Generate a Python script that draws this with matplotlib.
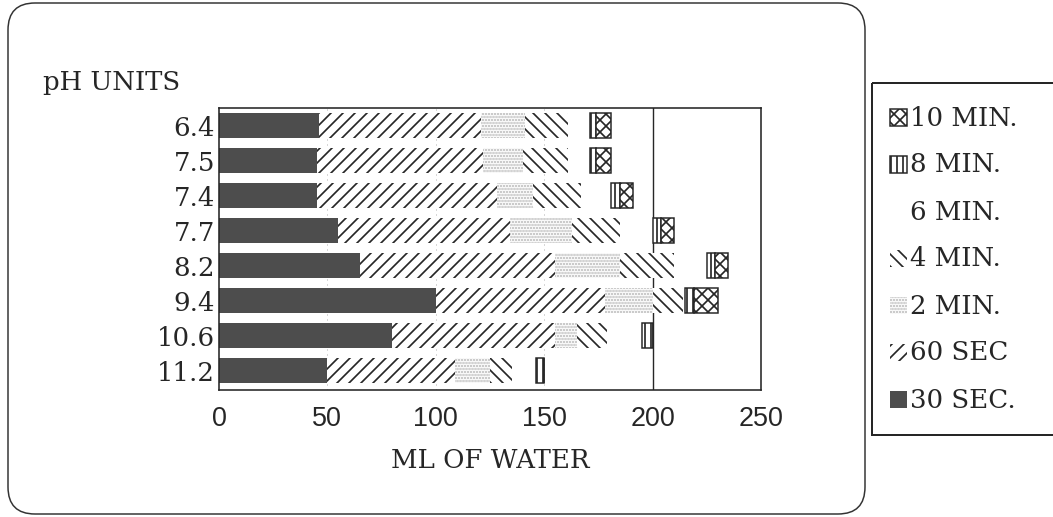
import numpy as np
import matplotlib
matplotlib.use('Agg')
import matplotlib.pyplot as plt
from matplotlib.patches import Rectangle, FancyBboxPatch

plt.rcParams['font.family'] = ['DejaVu Serif']
plt.rcParams['hatch.linewidth'] = 1.7

# data (cumulative ml of water collected at each time)
ph_labels = ['6.4', '7.5', '7.4', '7.7', '8.2', '9.4', '10.6', '11.2']
time_labels = ['30 SEC.', '60 SEC', '2 MIN.', '4 MIN.', '6 MIN.', '8 MIN.', '10 MIN.']
sec30 = [46, 45, 45, 55, 65, 100, 80, 50]
sec60 = [121, 122, 128, 134, 155, 178, 155, 109]
min2 = [141, 140, 145, 163, 185, 200, 165, 125]
min4 = [161, 161, 167, 185, 210, 214, 179, 135]
min6 = [171, 171, 181, 200, 225, 215, 195, 146]
min8 = [174, 174, 185, 204, 229, 219, 200, 150]
min10 = [181, 181, 191, 210, 235, 230, 200, 150]
x_ticks = [0, 50, 100, 150, 200, 250]

ink = '#262626'
styles = [
    dict(facecolor='#4d4d4d', edgecolor='#4d4d4d', hatch=None, linewidth=0),
    dict(facecolor='white', edgecolor=ink, hatch='//', linewidth=0),
    dict(facecolor='white', edgecolor='#b8b8b8', hatch='....', linewidth=0),
    dict(facecolor='white', edgecolor=ink, hatch='\\\\', linewidth=0),
    dict(facecolor='white', edgecolor='white', hatch=None, linewidth=0),
    dict(facecolor='white', edgecolor=ink, hatch='||', linewidth=1.5),
    dict(facecolor='white', edgecolor=ink, hatch='xx', linewidth=1.5),
]

W, H = 1053, 517
fig = plt.figure(figsize=(W / 72, H / 72), dpi=72)
fig.patch.set_facecolor('white')

# overlay in pixel coordinates for frame, legend and heading
ov = fig.add_axes([0, 0, 1, 1], zorder=0)
ov.set_xlim(0, W)
ov.set_ylim(H, 0)
ov.axis('off')

ax = fig.add_axes([219 / W, (H - 390) / H, 542 / W, 282 / H], zorder=1)

cum = np.array([sec30, sec60, min2, min4, min6, min8, min10], dtype=float)
ypos = np.arange(len(ph_labels))
prev = np.zeros(len(ph_labels))
for i, st in enumerate(styles):
    ax.barh(ypos, cum[i] - prev, left=prev, height=0.71, zorder=2,
            label=time_labels[i], **st)
    prev = cum[i]

for x in x_ticks[1:4]:
    ax.axvline(x, color='#b0b0b0', lw=1, ls=(0, (1, 4)), zorder=0.5)
ax.axvline(x_ticks[4], color=ink, lw=1.4, zorder=0.5)

ax.set_xlim(0, 250)
ax.set_ylim(7.557, -0.5)
ax.set_xticks(x_ticks)
ax.set_yticks(ypos)
ax.set_yticklabels(ph_labels)
ax.tick_params(axis='y', length=0, pad=4, labelsize=26, colors=ink)
ax.tick_params(axis='x', length=0, pad=16, labelsize=27, colors=ink)
for lab in ax.get_xticklabels():
    lab.set_fontfamily('Liberation Sans')
for sp in ax.spines.values():
    sp.set_linewidth(1.6)
    sp.set_color(ink)

ax.set_xlabel('ML OF WATER', fontsize=26, color=ink, va='center')
ax.xaxis.set_label_coords(0.5, (390 - 460) / 282)

# heading of y axis
ov.text(43, 90, 'pH UNITS', fontsize=26, color=ink, ha='left', va='baseline')

# rounded frame around the chart
ov.add_patch(FancyBboxPatch((8, 3), 857, 511, boxstyle='round,pad=0,rounding_size=27',
                            fill=False, edgecolor='#333333', lw=1.5, clip_on=False))

# legend box
ov.add_patch(Rectangle((872, 83), 200, 352, fill=False, edgecolor=ink, lw=2, clip_on=False))
for k, i in enumerate(range(len(time_labels) - 1, -1, -1)):
    yc = 118 + 47 * k
    ov.add_patch(Rectangle((890, yc - 9), 17, 17, **styles[i]))
    ov.text(910, yc, time_labels[i], fontsize=26, color=ink, ha='left', va='center')

fig.savefig('out.png', dpi=72, facecolor='white')
